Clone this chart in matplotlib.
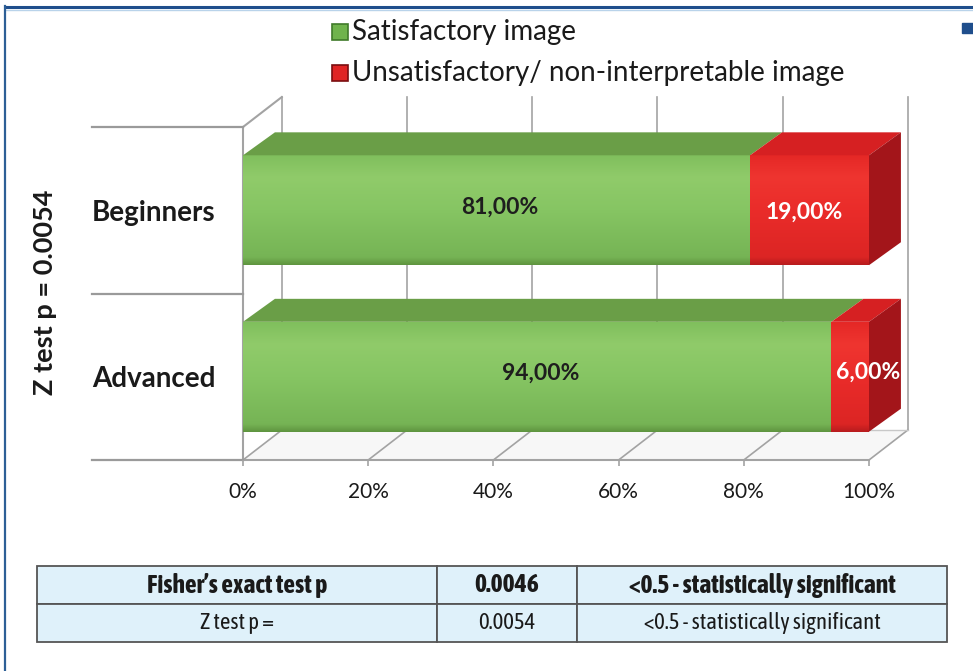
import matplotlib
matplotlib.use("Agg")
import matplotlib.pyplot as plt
from matplotlib.patches import Rectangle, Polygon
from matplotlib.colors import LinearSegmentedColormap
from matplotlib import font_manager
import numpy as np

# --- dati ---
categories = ["Advanced", "Beginners"]
satisfactory = [94, 81]
unsatisfactory = [6, 19]
x_ticks = [0, 20, 40, 60, 80, 100]
x_ticklabels = ["0%", "20%", "40%", "60%", "80%", "100%"]
legend_labels = ["Satisfactory image", "Unsatisfactory/ non-interpretable image"]
y_title = "Z test p = 0.0054"
table_rows = [
    ["Fisher\u2019s exact test p", "0.0046", "<0.5 - statistically significant"],
    ["Z test p =", "0.0054", "<0.5 - statistically significant"],
]

MAIN = "Lato"


# font stretto per la tabella (con grassetto), se ce n'è uno
def _w(f):
    return f.weight if isinstance(f.weight, int) else font_manager.weight_dict.get(f.weight, 400)


narrow = [f for f in font_manager.fontManager.ttflist
          if ("Narrow" in f.name or "Condensed" in f.name) and f.style == "normal"]
with_bold = sorted({f.name for f in narrow if _w(f) >= 600} & {f.name for f in narrow if _w(f) < 600})
NARROW = with_bold[0] if with_bold else "Lato"

GREEN_FRONT = [(0, "#5f9540"), (0.07, "#76b455"), (0.5, "#86c563"), (0.8, "#90cb6a"), (1, "#80bf5d")]
GREEN_TOP = "#6a9e47"
RED_FRONT = [(0, "#b81c1e"), (0.07, "#dc2524"), (0.5, "#ea2c2a"), (0.8, "#ef3530"), (1, "#e52826")]
RED_TOP = "#d62022"
RED_SIDE = "#a3151a"
GRID = "#a3a3a3"

fig = plt.figure(figsize=(9.73, 6.71), dpi=100)

# sfondo in pixel: cornice, legenda, tabella
bg = fig.add_axes([0, 0, 1, 1])
bg.set_xlim(0, 973)
bg.set_ylim(671, 0)
bg.axis("off")
bg.plot([5, 973], [7, 7], color="#1f4e8c", lw=2.2, solid_capstyle="butt")
bg.plot([6, 973], [9.5, 9.5], color="#b9d3ea", lw=1)
bg.plot([5, 5], [6, 671], color="#2d5f96", lw=1.6)
bg.add_patch(Rectangle((962, 23), 11, 10, color="#1f4e8c"))

# legenda
for i, (lab, col, dark) in enumerate(zip(legend_labels, ["#6fb34c", "#e02424"],
                                         ["#3f7a2a", "#7a0e10"])):
    y = 32 + i * 41
    bg.add_patch(Rectangle((332, y - 8), 16, 16, facecolor=col, edgecolor=dark, lw=1.2))
    bg.text(352, y, lab, fontsize=20, family=MAIN, va="center", ha="left", color="#1a1a1a")

# --- grafico ---
ax = fig.add_axes([243 / 973, 1 - 460 / 671, 626 / 973, 333 / 671])
ax.set_zorder(2)
ax.patch.set_alpha(0)
for s in ax.spines.values():
    s.set_visible(False)

DX, DY = 6.2, 0.18      # profondità pareti
BDX, BDY = 5.1, 0.138   # profondità barre
H = 0.66
y0, y1 = -0.5, 1.5

# parete di fondo, pavimento e parete sinistra
for t in x_ticks:
    ax.plot([t + DX, t + DX], [y0 + DY, y1 + DY], color=GRID, lw=1.2, clip_on=False, zorder=1)
    ax.plot([t, t + DX], [y0, y0 + DY], color=GRID, lw=1.2, clip_on=False, zorder=1)
ax.add_patch(Polygon([(0, y0), (100, y0), (100 + DX, y0 + DY), (DX, y0 + DY)],
                     closed=True, facecolor="#f7f7f7", edgecolor="none", clip_on=False, zorder=0))
ax.plot([0, 100], [y0, y0], color=GRID, lw=1.5, clip_on=False, zorder=1)
ax.plot([DX, 100 + DX], [y0 + DY, y0 + DY], color="#c8c8c8", lw=1, clip_on=False, zorder=1)
ax.plot([0, 0], [y0, y1], color=GRID, lw=1.5, clip_on=False, zorder=1)
ax.plot([0, DX], [y1, y1 + DY], color=GRID, lw=1.5, clip_on=False, zorder=1)
for yy in [-0.5, 0.5, 1.5]:
    ax.plot([-24.2, 0], [yy, yy], color="#9a9a9a", lw=1.6, clip_on=False, zorder=1)


def front_face(xa, xb, yc, cols, z):
    cmap = LinearSegmentedColormap.from_list("f", cols)
    grad = np.linspace(0, 1, 128).reshape(-1, 1)
    ax.imshow(grad, cmap=cmap, extent=(xa, xb, yc - H / 2, yc + H / 2), origin="lower",
              aspect="auto", zorder=z, clip_on=False, interpolation="bicubic")


green_dx = [0.6, 0.5]
red_dx = [2.9, -0.9]
for i, cat in enumerate(categories):
    segs = [(0, satisfactory[i], GREEN_FRONT, GREEN_TOP),
            (satisfactory[i], satisfactory[i] + unsatisfactory[i], RED_FRONT, RED_TOP)]
    top = i + H / 2
    bot = i - H / 2
    for xa, xb, fcols, tcol in segs:
        front_face(xa, xb, i, fcols, 4)
        ax.add_patch(Polygon([(xa, top), (xb, top), (xb + BDX, top + BDY), (xa + BDX, top + BDY)],
                             closed=True, facecolor=tcol, edgecolor="none", clip_on=False, zorder=4))
    xe = satisfactory[i] + unsatisfactory[i]
    ax.add_patch(Polygon([(xe, bot), (xe, top), (xe + BDX, top + BDY), (xe + BDX, bot + BDY)],
                         closed=True, facecolor=RED_SIDE, edgecolor="none", clip_on=False, zorder=4))
    # etichette
    ax.text(satisfactory[i] / 2 + green_dx[i], i + 0.02, f"{satisfactory[i]:.2f}%".replace(".", ","),
            ha="center", va="center", fontsize=16.5, fontweight="bold", family=MAIN,
            color="#1e1e1e", zorder=6)
    ax.text(satisfactory[i] + unsatisfactory[i] / 2 + red_dx[i], i + (0.03 if i == 0 else -0.01),
            f"{unsatisfactory[i]:.2f}%".replace(".", ","),
            ha="center", va="center", fontsize=16.5, fontweight="bold", family=MAIN,
            color="white", zorder=6)

ax.set_xlim(0, 100)
ax.set_ylim(y0, y1)
ax.set_xticks(x_ticks, labels=x_ticklabels)
ax.set_yticks([0, 1], labels=categories)
ax.tick_params(axis="x", length=4, color=GRID, width=1.2, pad=12, labelsize=15,
               labelcolor="#1a1a1a")
ax.tick_params(axis="y", length=0, pad=20, labelsize=20, labelcolor="#1a1a1a")
for lab in ax.get_xticklabels():
    lab.set_family(MAIN)
for lab in ax.get_yticklabels():
    lab.set_family(MAIN)
    lab.set_fontweight("bold")
ax.set_ylabel(y_title, fontsize=19.5, fontweight="bold", family=MAIN, color="#1a1a1a")
ax.yaxis.set_label_coords(-0.297, 0.505)

# --- tabella ---
tab = bg.table(cellText=table_rows, cellLoc="center",
               colWidths=[400, 140, 370],
               bbox=[37 / 973, 1 - 642 / 671, 910 / 973, 76 / 671])
tab.auto_set_font_size(False)
for (r, c), cell in tab.get_celld().items():
    cell.set_facecolor("#dff1fa")
    cell.set_edgecolor("#555555")
    cell.set_linewidth(1.3)
    txt = cell.get_text()
    txt.set_family(NARROW)
    txt.set_color("#1a1a1a")
    if NARROW == "Lato":
        txt.set_fontsize(14.5)
    else:
        txt.set_fontsize(18.5 if r == 0 else 16.5)
    if r == 0:
        txt.set_fontweight("bold")

fig.savefig("out.png", dpi=100)
